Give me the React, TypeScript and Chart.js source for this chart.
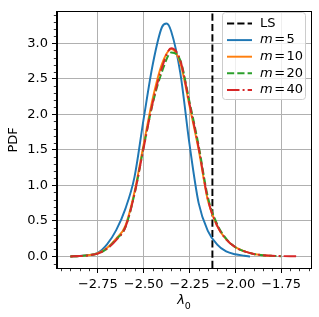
import React, { useEffect, useRef } from "react";
import { Chart, registerables } from "chart.js";

Chart.register(...registerables);

const FONT = "'DejaVu Sans', sans-serif";

// Reference LS value (vertical dashed line)
const LS_VALUE = -2.125;

// m = 5
const xM5 = [-2.9, -2.85, -2.8, -2.75, -2.7, -2.65, -2.6, -2.55, -2.5, -2.45, -2.4, -2.375, -2.35, -2.3, -2.25, -2.2, -2.15, -2.1, -2.05, -2.0, -1.95, -1.92];
const yM5 = [0.0, 0.005, 0.02, 0.05, 0.17, 0.37, 0.67, 1.12, 1.94, 2.71, 3.23, 3.28, 3.17, 2.58, 1.58, 0.75, 0.36, 0.17, 0.07, 0.03, 0.01, 0.0];

// m = 10
const xM10 = [-2.9, -2.85, -2.8, -2.75, -2.7, -2.65, -2.6, -2.55, -2.5, -2.45, -2.4, -2.35, -2.3, -2.25, -2.2, -2.15, -2.1, -2.05, -2.0, -1.95, -1.9, -1.85, -1.8];
const yM10 = [0.0, 0.006, 0.017, 0.045, 0.12, 0.25, 0.43, 0.91, 1.58, 2.23, 2.71, 2.92, 2.72, 2.12, 1.5, 0.79, 0.43, 0.24, 0.13, 0.07, 0.035, 0.017, 0.007];

// m = 20
const xM20 = [-2.9, -2.85, -2.8, -2.75, -2.7, -2.65, -2.6, -2.55, -2.5, -2.45, -2.4, -2.35, -2.3, -2.25, -2.2, -2.15, -2.1, -2.05, -2.0, -1.95, -1.9, -1.85, -1.8, -1.75];
const yM20 = [0.0, 0.005, 0.016, 0.04, 0.11, 0.24, 0.41, 0.88, 1.54, 2.16, 2.6, 2.87, 2.76, 2.18, 1.56, 0.84, 0.46, 0.25, 0.13, 0.07, 0.035, 0.017, 0.008, 0.003];

// m = 40
const xM40 = [-2.9, -2.85, -2.8, -2.75, -2.7, -2.65, -2.6, -2.55, -2.5, -2.45, -2.4, -2.35, -2.3, -2.25, -2.2, -2.15, -2.1, -2.05, -2.0, -1.95, -1.9, -1.85, -1.8, -1.75, -1.7, -1.66];
const yM40 = [0.0, 0.005, 0.015, 0.04, 0.11, 0.23, 0.41, 0.88, 1.53, 2.17, 2.66, 2.93, 2.76, 2.15, 1.53, 0.81, 0.44, 0.24, 0.13, 0.07, 0.035, 0.018, 0.009, 0.005, 0.002, 0.001];

const X_MIN = -2.973;
const X_MAX = -1.587;
const Y_MIN = -0.163;
const Y_MAX = 3.444;

const xTicks = [-2.75, -2.5, -2.25, -2.0, -1.75];
const yTicks = [0.0, 0.5, 1.0, 1.5, 2.0, 2.5, 3.0];

const mValues = [5, 10, 20, 40];
const seriesColors = ["#1f77b4", "#ff7f0e", "#2ca02c", "#d62728"];
const LW = 1.95;
const DASHED = [7.2, 3.1];
const DASHDOT = [12.5, 3.1, 1.95, 3.1];
const seriesDashes: number[][] = [[], [], DASHED, DASHDOT];

const pts = (xs: number[], ys: number[]) => xs.map((x, i) => ({ x, y: ys[i] }));
const minus = (s: string) => s.replace("-", "\u2212");

const decorPlugin = {
  id: "decor",
  afterDraw(chart: any) {
    const ctx = chart.ctx as CanvasRenderingContext2D;
    const { left, right, top, bottom } = chart.chartArea;
    const xs = chart.scales.x;
    const ys = chart.scales.y;
    ctx.save();

    // spines (full box)
    ctx.strokeStyle = "#000";
    ctx.lineWidth = 1;
    ctx.setLineDash([]);
    ctx.strokeRect(Math.round(left) - 0.5, Math.round(top) - 0.5, Math.round(right - left) + 1, Math.round(bottom - top) + 1);

    // minor ticks
    ctx.lineWidth = 0.8;
    ctx.beginPath();
    for (let k = -60; k <= -30; k++) {
      const v = k * 0.05;
      if (v < X_MIN || v > X_MAX) continue;
      if (xTicks.some((t) => Math.abs(t - v) < 1e-6)) continue;
      const px = Math.round(xs.getPixelForValue(v)) + 0.5;
      ctx.moveTo(px, bottom + 0.5);
      ctx.lineTo(px, bottom + 3.2);
    }
    for (let k = -1; k <= 34; k++) {
      const v = k * 0.1;
      if (v < Y_MIN || v > Y_MAX) continue;
      if (yTicks.some((t) => Math.abs(t - v) < 1e-6)) continue;
      const py = Math.round(ys.getPixelForValue(v)) + 0.5;
      ctx.moveTo(left - 0.5, py);
      ctx.lineTo(left - 3.2, py);
    }
    ctx.stroke();

    // axis titles
    ctx.fillStyle = "#000";
    ctx.font = `13px ${FONT}`;
    ctx.textAlign = "center";
    ctx.textBaseline = "middle";
    ctx.save();
    ctx.translate(14, (top + bottom) / 2);
    ctx.rotate(-Math.PI / 2);
    ctx.fillText("PDF", 0, 0);
    ctx.restore();

    const cx = (left + right) / 2;
    ctx.textAlign = "left";
    ctx.textBaseline = "alphabetic";
    ctx.font = `italic 13px ${FONT}`;
    const lw = ctx.measureText("\u03bb").width;
    ctx.font = `9.5px ${FONT}`;
    const sw = ctx.measureText("0").width;
    const startX = cx - (lw + sw) / 2;
    ctx.font = `italic 13px ${FONT}`;
    ctx.fillText("\u03bb", startX, 304);
    ctx.font = `9.5px ${FONT}`;
    ctx.fillText("0", startX + lw, 308.5);

    // legend
    const bx = 222.5, by = 12.5, bw = 83, bh = 87;
    ctx.beginPath();
    (ctx as any).roundRect(bx, by, bw, bh, 3);
    ctx.fillStyle = "rgba(255,255,255,0.8)";
    ctx.fill();
    ctx.strokeStyle = "#cccccc";
    ctx.lineWidth = 1;
    ctx.stroke();

    const rows = [
      { label: null as number | null, color: "#000", dash: DASHED },
      ...mValues.map((m, i) => ({ label: m as number | null, color: seriesColors[i], dash: seriesDashes[i] })),
    ];
    rows.forEach((r, i) => {
      const y = 23.5 + i * 16.6;
      ctx.strokeStyle = r.color;
      ctx.lineWidth = LW;
      ctx.setLineDash(r.dash);
      ctx.lineCap = "butt";
      ctx.beginPath();
      ctx.moveTo(227, y);
      ctx.lineTo(252, y);
      ctx.stroke();
      ctx.setLineDash([]);
      ctx.fillStyle = "#000";
      ctx.textBaseline = "middle";
      ctx.textAlign = "left";
      if (r.label === null) {
        ctx.font = `13px ${FONT}`;
        ctx.fillText("LS", 260, y);
      } else {
        ctx.font = `italic 13px ${FONT}`;
        ctx.fillText("m", 260, y);
        const mw = ctx.measureText("m").width;
        ctx.font = `13px ${FONT}`;
        const gap = 1.5;
        ctx.fillText("=", 260 + mw + gap, y);
        const ew = ctx.measureText("=").width;
        ctx.fillText(String(r.label), 260 + mw + gap + ew + gap, y);
      }
    });
    ctx.restore();
  },
};

export default function App() {
  const ref = useRef<HTMLCanvasElement>(null);
  useEffect(() => {
    const seriesX = [xM5, xM10, xM20, xM40];
    const seriesY = [yM5, yM10, yM20, yM40];
    const datasets: any[] = [
      {
        label: "LS",
        data: [
          { x: LS_VALUE, y: Y_MIN },
          { x: LS_VALUE, y: Y_MAX },
        ],
        borderColor: "#000",
        borderWidth: LW,
        borderDash: DASHED,
        pointRadius: 0,
        order: 5,
      },
      ...mValues.map((m, i) => ({
        label: `m = ${m}`,
        data: pts(seriesX[i], seriesY[i]),
        borderColor: seriesColors[i],
        borderWidth: LW,
        borderDash: seriesDashes[i],
        pointRadius: 0,
        cubicInterpolationMode: "monotone",
        order: 4 - i,
      })),
    ];
    const chart = new Chart(ref.current!, {
      type: "line",
      data: { datasets },
      options: {
        animation: false,
        responsive: false,
        devicePixelRatio: 1,
        layout: { padding: { left: 0, right: 8, top: 8, bottom: 0 } },
        plugins: { legend: { display: false }, tooltip: { enabled: false } },
        scales: {
          x: {
            type: "linear",
            min: X_MIN,
            max: X_MAX,
            afterBuildTicks: (s: any) => {
              s.ticks = xTicks.map((v) => ({ value: v }));
            },
            afterFit: (s: any) => {
              s.height = 49;
            },
            ticks: {
              autoSkip: false,
              maxRotation: 0,
              minRotation: 0,
              padding: 4,
              color: "#000",
              font: { family: FONT, size: 13 },
              callback: (v: any) => minus(Number(v).toFixed(2)),
            },
            grid: { color: "#b0b0b0", lineWidth: 1, tickColor: "#000", tickLength: 5, tickWidth: 1 },
            border: { color: "#000", width: 1 },
          },
          y: {
            type: "linear",
            min: Y_MIN,
            max: Y_MAX,
            afterBuildTicks: (s: any) => {
              s.ticks = yTicks.map((v) => ({ value: v }));
            },
            afterFit: (s: any) => {
              s.width = 57;
            },
            ticks: {
              autoSkip: false,
              padding: 4,
              color: "#000",
              font: { family: FONT, size: 13 },
              callback: (v: any) => minus(Number(v).toFixed(1)),
            },
            grid: { color: "#b0b0b0", lineWidth: 1, tickColor: "#000", tickLength: 5, tickWidth: 1 },
            border: { color: "#000", width: 1 },
          },
        },
      } as any,
      plugins: [decorPlugin],
    });
    return () => chart.destroy();
  }, []);
  return (
    <div style={{ position: "absolute", left: 0, top: 0, width: 319, height: 317 }}>
      <canvas ref={ref} width={319} height={317} style={{ display: "block", width: 319, height: 317 }} />
    </div>
  );
}
